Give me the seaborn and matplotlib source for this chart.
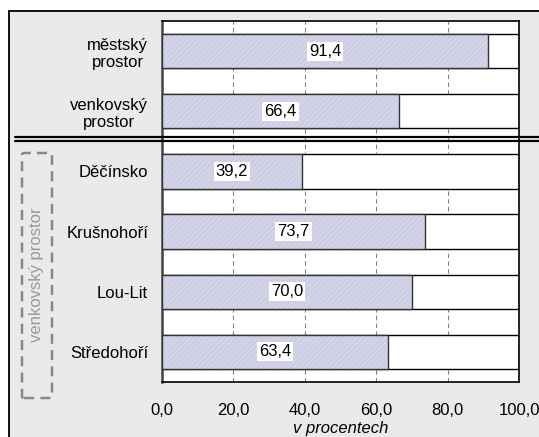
import pandas as pd
import seaborn as sns
import matplotlib.pyplot as plt
from matplotlib.patches import Rectangle, FancyBboxPatch
from matplotlib.lines import Line2D

# Data
categories = ['městský\nprostor', 'venkovský\nprostor', 'Děčínsko', 'Krušnohoří', 'Lou-Lit', 'Středohoří']
values = [91.4, 66.4, 39.2, 73.7, 70.0, 63.4]
totals = [100, 100, 100, 100, 100, 100]
xticks = [0, 20, 40, 60, 80, 100]
xtick_labels = ['0,0', '20,0', '40,0', '60,0', '80,0', '100,0']

df = pd.DataFrame({'kat': categories, 'hodnota': values, 'celkem': totals})

sns.set_style('white')
plt.rcParams['font.family'] = ['Liberation Sans', 'DejaVu Sans']
plt.rcParams['hatch.linewidth'] = 0.6
for key in ['text.color', 'axes.labelcolor', 'xtick.color', 'ytick.color']:
    plt.rcParams[key] = 'black'

fig = plt.figure(figsize=(5.39, 4.37), dpi=100, facecolor='white')

# outer frame with grey background
fig.patches.append(Rectangle((9 / 539, -0.05), 1.2, 0.975 + 0.05, transform=fig.transFigure,
                             facecolor='#EAEAEA', edgecolor='black', linewidth=1.3, zorder=-5))

ax = fig.add_axes([162 / 539, 1 - 382 / 437, (519 - 162) / 539, (382 - 21) / 437])
ax.set_facecolor('white')

# remainder to 100 %
sns.barplot(data=df, y='kat', x='celkem', orient='h', color='white', edgecolor='black',
            linewidth=1.0, width=0.57, ax=ax, zorder=2)
# hatched value bars
sns.barplot(data=df, y='kat', x='hodnota', orient='h', color='#CACAE6', edgecolor='#DDDDF0',
            linewidth=0, width=0.57, hatch='//////', ax=ax, zorder=3)
# outline of value bars
sns.barplot(data=df, y='kat', x='hodnota', orient='h', fill=False, edgecolor='#333333',
            linewidth=1.0, width=0.57, ax=ax, zorder=4)

# value labels
for i, v in enumerate(values):
    ax.text(v / 2, i, f'{v:.1f}'.replace('.', ','), ha='center', va='center', fontsize=12,
            zorder=6, bbox=dict(facecolor='white', edgecolor='none', pad=1.5))

ax.set_xlim(0, 100)
ax.set_ylim(5.5, -0.5)
ax.set_xticks(xticks)
ax.set_xticklabels(xtick_labels, fontsize=12)
ax.tick_params(axis='x', direction='inout', length=8, width=1, pad=11, color='black')
ax.tick_params(axis='y', length=0, pad=10, labelsize=12)
for lbl in ax.get_yticklabels():
    lbl.set_multialignment('center')

ax.xaxis.grid(True, color='#808080', linestyle=(0, (4, 3)), linewidth=0.8)
ax.set_axisbelow(True)
for s in ax.spines.values():
    s.set_visible(True)
    s.set_color('black')
    s.set_linewidth(1.2)
ax.spines['left'].set_color('#444444')
ax.spines['left'].set_linewidth(1.8)

ax.set_ylabel('')
ax.set_xlabel('v procentech', fontsize=12, style='italic', labelpad=2)

# double separator line
for ypx in (137, 141.3):
    fig.add_artist(Line2D([15 / 539, 1.0], [1 - ypx / 437, 1 - ypx / 437], transform=fig.transFigure,
                          color='black', linewidth=1.6, zorder=10))

# group bracket on the left
fig.patches.append(FancyBboxPatch((22 / 539, 1 - 398 / 437), 30 / 539, (398 - 153) / 437,
                                  boxstyle='round,pad=0,rounding_size=0.004', transform=fig.transFigure,
                                  facecolor='none', edgecolor='#888888', linewidth=1.8,
                                  linestyle=(0, (4, 2.5)), zorder=5))
fig.text(37 / 539, 1 - 275 / 437, 'venkovský prostor', rotation=90, ha='center', va='center',
         fontsize=12, color='#999999')

plt.savefig('out.png', dpi=100)
